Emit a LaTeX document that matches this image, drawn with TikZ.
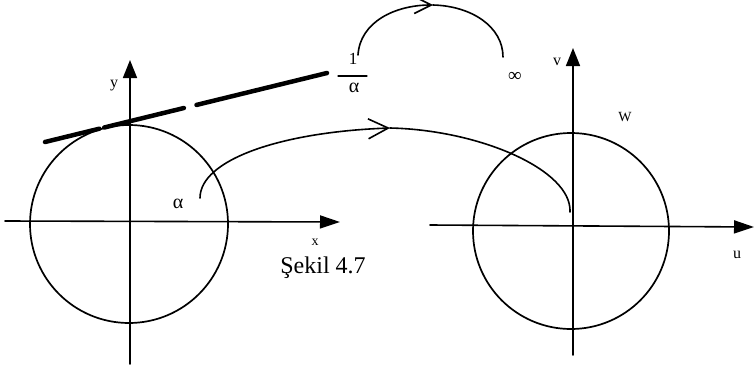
\documentclass[tikz,border=0pt]{standalone}
\usepackage{fontspec}
\setmainfont{Liberation Serif}
\usetikzlibrary{arrows.meta}
\begin{document}
\begin{tikzpicture}[x=1pt,y=-1pt,line width=1.6pt,line cap=round,
  axisx/.style={line width=1.6pt,-{Triangle[length=20pt,width=13pt]}},
  axisy/.style={line width=1.6pt,-{Triangle[length=18pt,width=14pt]}},
  ring/.style={circle,draw,line width=1.7pt,inner sep=0pt},
  lbl/.style={inner sep=0pt,font=\fontsize{16}{16}\selectfont},
  small/.style={inner sep=0pt,font=\fontsize{14}{14}\selectfont},
  greek/.style={inner sep=0pt,font=\fontsize{20}{20}\selectfont},
  barbbig/.style={-{Straight Barb[length=20pt,width=20pt,line width=1.6pt]}},
  barbsmall/.style={-{Straight Barb[length=17pt,width=17pt,line width=1.6pt]}},
  tangent/.style={line width=4.5pt,line cap=round,dash pattern=on 56pt off 5pt on 82pt off 13pt on 140pt}
]
\useasboundingbox (0,0) rectangle (754,364);

% left plane
\node[ring,minimum size=198pt] (zc) at (129,224) {};
\coordinate (xl) at (5,221);
\coordinate (xr) at (340,222);
\coordinate (yb) at (130,364);
\coordinate (yt) at (130,60);
\draw[axisx] (xl) -- (xr);
\draw[axisy] (yb) -- (yt);
\node[lbl] (ylab) at (114,86) {y};
\node[small] (xlab) at (315,242) {x};
\node[greek] (alab) at (178,204) {α};

% tangent line and 1/alpha
\node[inner sep=0pt,font=\fontsize{17}{17}\selectfont] (num) at (353,59) {1};
\node[greek] (den) at (354,88) {α};
\coordinate (bl) at (338,76);
\coordinate (br) at (367,76);
\draw[line width=1.2pt] (bl) -- (br);
\coordinate (t1) at (45,142);
\coordinate (t2) at (327,73);
\draw[tangent] (t1) -- (t2);

% top arc to infinity
\node[inner sep=0pt,font=\fontsize{19}{19}\selectfont] (inf) at (515,77) {∞};
\coordinate (a1) at (358,55);
\coordinate (a2) at (433,5);
\coordinate (a3) at (503,57);
\draw[barbsmall] (a1) .. controls (360,22) and (395,5) .. (a2);
\draw (a2) .. controls (472,6) and (503,27) .. (a3);

% mapping curve
\coordinate (cs) at (200,198);
\coordinate (cm) at (390,128);
\coordinate (ce) at (570,212);
\draw[barbbig] (cs) .. controls (200,160) and (280,132) .. (cm);
\draw (cm) .. controls (480,130) and (572,170) .. (ce);

% right plane
\node[ring,minimum size=196pt] (wc) at (571,231) {};
\coordinate (ul) at (430,225);
\coordinate (ur) at (754,227);
\coordinate (vb) at (573,355);
\coordinate (vt) at (573,48);
\draw[axisx] (ul) -- (ur);
\draw[axisy] (vb) -- (vt);
\node[lbl] (vlab) at (557,62) {v};
\node[lbl] (ulab) at (737,255) {u};
\node[small] (wlab) at (625,117) {W};

\node[inner sep=0pt,font=\fontsize{24}{24}\selectfont] (cap) at (323,268) {Şekil 4.7};
\end{tikzpicture}
\end{document}
